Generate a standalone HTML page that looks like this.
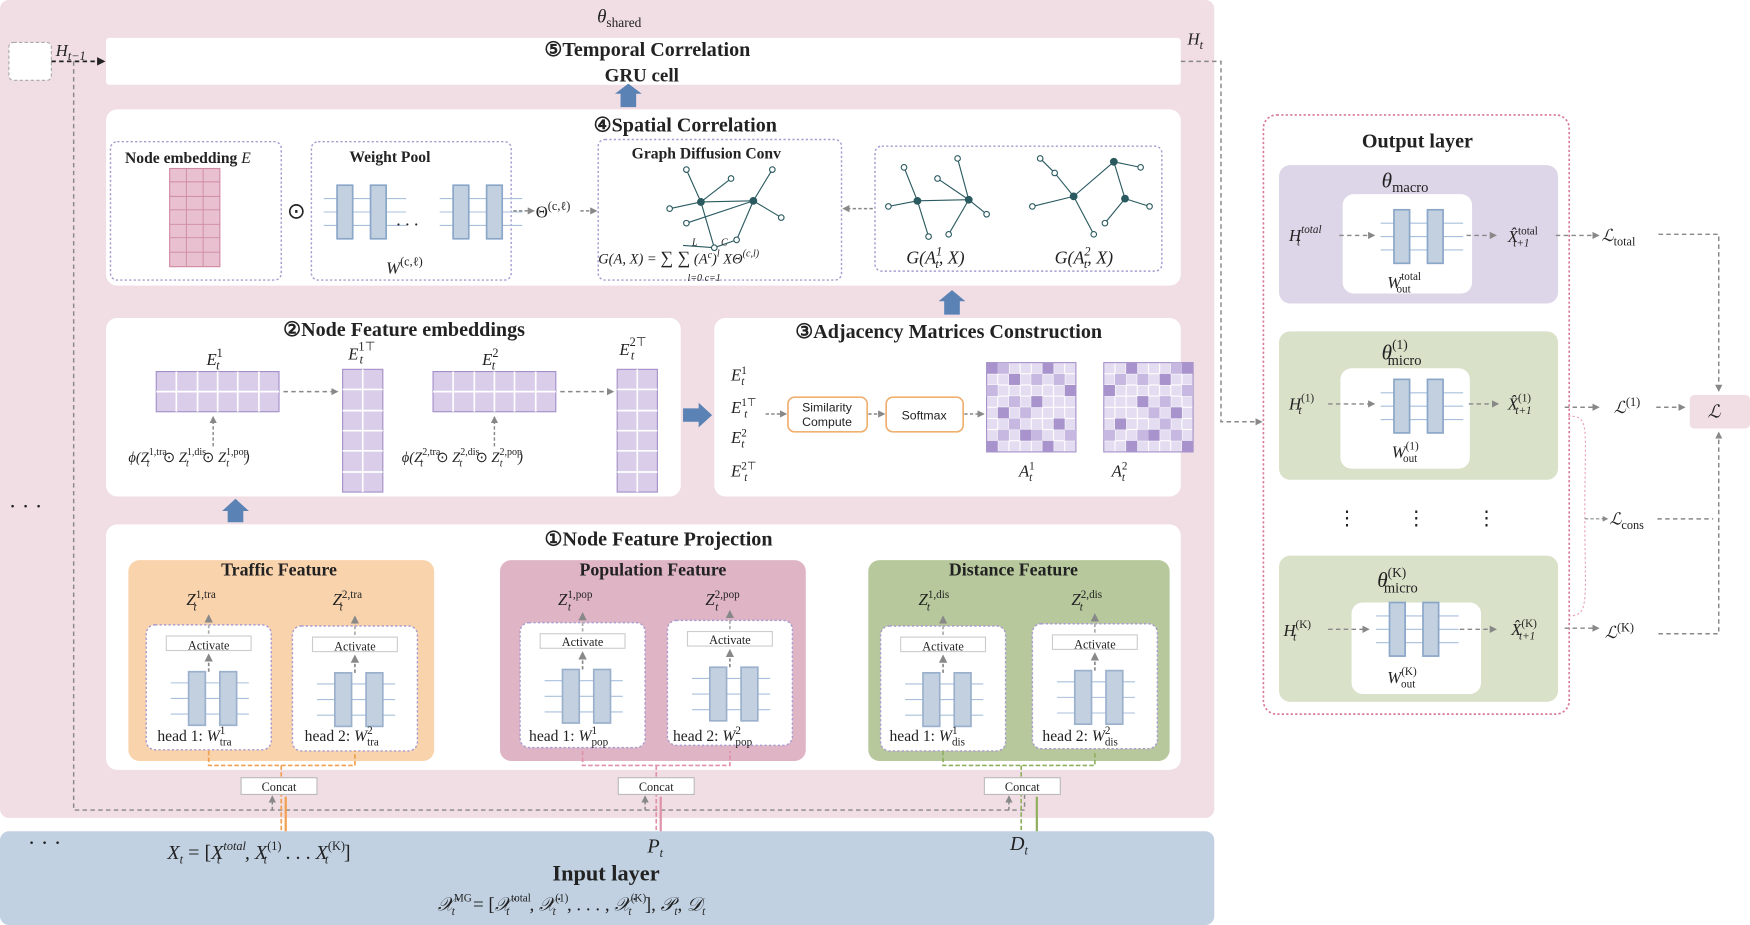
<!DOCTYPE html>
<html><head><meta charset="utf-8"><style>
html,body{margin:0;padding:0;background:#fff;}
svg{display:block;}
text{font-family:"Liberation Serif",serif;fill:#222;}
.b{font-weight:bold;}
.s{font-family:"Liberation Sans",sans-serif;}
</style></head><body>
<svg width="1750" height="925" viewBox="0 0 1568 829" preserveAspectRatio="none" xmlns="http://www.w3.org/2000/svg">
<defs>
<marker id="ag" viewBox="0 0 10 10" refX="8" refY="5" markerWidth="5" markerHeight="5" orient="auto"><path d="M0,0L10,5L0,10z" fill="#888"/></marker>
<marker id="ak" viewBox="0 0 10 10" refX="8" refY="5" markerWidth="5" markerHeight="5" orient="auto"><path d="M0,0L10,5L0,10z" fill="#222"/></marker>
<pattern id="grid" width="10" height="10" patternUnits="userSpaceOnUse"><rect width="10" height="10" fill="#e4dcf0" stroke="#fff" stroke-width="1"/></pattern>
<g id="head">
<rect x="0" y="0" width="112" height="112" rx="8" fill="#fff" stroke="#a99bd0" stroke-dasharray="2 2" stroke-width="1.3"/>
<rect x="18" y="10" width="76" height="13" fill="#fff" stroke="#ccc"/>
<line x1="56" y1="42" x2="56" y2="27" stroke="#888" stroke-width="1.5" stroke-dasharray="3 2" marker-end="url(#ag)"/>
<line x1="56" y1="8" x2="56" y2="-8" stroke="#aaa" stroke-width="1.5" stroke-dasharray="3 2" marker-end="url(#ag)"/>
<g stroke="#a8c0dc" stroke-width="1"><line x1="22" y1="52" x2="92" y2="52"/><line x1="22" y1="66" x2="92" y2="66"/><line x1="22" y1="80" x2="92" y2="80"/></g>
<rect x="38" y="42" width="15" height="48" fill="#c3d0e0" stroke="#9ab0cc" stroke-width="1.5"/>
<rect x="66" y="42" width="15" height="48" fill="#c3d0e0" stroke="#9ab0cc" stroke-width="1.5"/>
</g>
<g id="wb">
<g stroke="#a8c0dc"><line x1="-12" y1="12" x2="62" y2="12"/><line x1="-12" y1="24" x2="62" y2="24"/><line x1="-12" y1="36" x2="62" y2="36"/></g>
<rect x="0" y="0" width="14" height="48" fill="#c3d0e0" stroke="#8aa6c8" stroke-width="1.5"/>
<rect x="30" y="0" width="14" height="48" fill="#c3d0e0" stroke="#8aa6c8" stroke-width="1.5"/>
</g>
<g id="hrow"><rect width="110" height="36" fill="#d9cde9" stroke="#a390c8"/><g stroke="#fff" stroke-width="1.5"><line x1="18" y1="0" x2="18" y2="36"/><line x1="37" y1="0" x2="37" y2="36"/><line x1="55" y1="0" x2="55" y2="36"/><line x1="73" y1="0" x2="73" y2="36"/><line x1="92" y1="0" x2="92" y2="36"/><line x1="0" y1="18" x2="110" y2="18"/></g></g>
<g id="vcol"><rect width="36" height="110" fill="#d9cde9" stroke="#a390c8"/><g stroke="#fff" stroke-width="1.5"><line y1="18" x1="0" y2="18" x2="36"/><line y1="37" x1="0" y2="37" x2="36"/><line y1="55" x1="0" y2="55" x2="36"/><line y1="73" x1="0" y2="73" x2="36"/><line y1="92" x1="0" y2="92" x2="36"/><line y1="0" x1="18" y2="110" x2="18"/></g></g>
<g id="adj"><rect width="80" height="80" fill="url(#grid)" stroke="#a390c8"/>
<g fill="#a893cc"><rect x="0" y="0" width="10" height="10"/><rect x="20" y="10" width="10" height="10"/><rect x="50" y="0" width="10" height="10"/><rect x="70" y="20" width="10" height="10"/><rect x="10" y="40" width="10" height="10"/><rect x="40" y="30" width="10" height="10"/><rect x="60" y="50" width="10" height="10"/><rect x="30" y="60" width="10" height="10"/><rect x="0" y="70" width="10" height="10"/><rect x="50" y="70" width="10" height="10"/></g>
<g fill="#c6b8e0"><rect x="10" y="0" width="10" height="10"/><rect x="40" y="10" width="10" height="10"/><rect x="0" y="20" width="10" height="10"/><rect x="30" y="40" width="10" height="10"/><rect x="60" y="10" width="10" height="10"/><rect x="20" y="50" width="10" height="10"/><rect x="70" y="60" width="10" height="10"/><rect x="10" y="60" width="10" height="10"/><rect x="40" y="60" width="10" height="10"/><rect x="20" y="30" width="10" height="10"/></g></g>
</defs>

<!-- backgrounds -->
<rect x="0" y="0" width="1088" height="733" rx="8" fill="#f0dee4"/>
<rect x="0" y="745" width="1088" height="84" rx="8" fill="#c1d1e2"/>
<text x="535" y="20" font-size="17" font-style="italic">θ<tspan font-size="12" font-style="normal" dy="4">shared</tspan></text>

<rect x="8" y="38" width="38" height="34" rx="4" fill="#fff" stroke="#aaa" stroke-dasharray="3 2"/>
<text x="50" y="50" font-size="15" font-style="italic">H<tspan font-size="11" dy="4">t−1</tspan></text>
<line x1="46" y1="55" x2="93" y2="55" stroke="#222" stroke-width="1.5" stroke-dasharray="4 3" marker-end="url(#ak)"/>
<path d="M66,55 V726 H918 V712" fill="none" stroke="#888" stroke-dasharray="4 3" stroke-width="1.3"/>
<text x="8" y="460" font-size="20">· · ·</text>
<text x="25" y="762" font-size="20">· · ·</text>

<!-- GRU -->
<rect x="95" y="34" width="963" height="42" rx="3" fill="#fff"/>
<text x="580" y="50" font-size="18" class="b" text-anchor="middle">⑤Temporal Correlation</text>
<text x="575" y="73" font-size="17" class="b" text-anchor="middle">GRU cell</text>
<text x="1064" y="40" font-size="15" font-style="italic">H<tspan font-size="11" dy="4">t</tspan></text>
<path d="M1058,55 H1094 V378 H1130" fill="none" stroke="#888" stroke-dasharray="4 3" stroke-width="1.3" marker-end="url(#ag)"/>
<path d="M556,96 L556,84 L551,84 L563,75 L575,84 L570,84 L570,96 Z" fill="#5a82b4"/>

<!-- spatial -->
<rect x="95" y="98" width="963" height="158" rx="10" fill="#fff"/>
<text x="614" y="118" font-size="18" class="b" text-anchor="middle">④Spatial Correlation</text>
<rect x="99" y="127" width="153" height="124" rx="6" fill="none" stroke="#a99bd0" stroke-dasharray="2 2" stroke-width="1.3"/>
<text x="112" y="146" font-size="14" class="b">Node embedding <tspan font-style="italic" font-weight="normal">E</tspan></text>
<rect x="152" y="151" width="45" height="88" fill="#e8c0cf" stroke="#cf8aa2"/>
<g stroke="#cf8aa2" stroke-width="0.8"><line x1="167" y1="151" x2="167" y2="239"/><line x1="182" y1="151" x2="182" y2="239"/><line x1="152" y1="163" x2="197" y2="163"/><line x1="152" y1="176" x2="197" y2="176"/><line x1="152" y1="188" x2="197" y2="188"/><line x1="152" y1="201" x2="197" y2="201"/><line x1="152" y1="213" x2="197" y2="213"/><line x1="152" y1="226" x2="197" y2="226"/></g>
<text x="257" y="196" font-size="20">⊙</text>
<rect x="279" y="127" width="179" height="124" rx="6" fill="none" stroke="#a99bd0" stroke-dasharray="2 2" stroke-width="1.3"/>
<text x="313" y="145" font-size="14" class="b">Weight Pool</text>
<use href="#wb" x="302" y="166"/>
<text x="355" y="202" font-size="16">. . .</text>
<use href="#wb" x="406" y="166"/>
<text x="346" y="245" font-size="15" font-style="italic">W<tspan font-size="11" font-style="normal" dy="-7">(c,ℓ)</tspan></text>
<line x1="460" y1="189" x2="478" y2="189" stroke="#888" stroke-dasharray="3 2" stroke-width="1.3" marker-end="url(#ag)"/>
<text x="480" y="195" font-size="15">Θ<tspan font-size="11" dy="-7">(c,ℓ)</tspan></text>
<line x1="520" y1="189" x2="534" y2="189" stroke="#888" stroke-dasharray="3 2" stroke-width="1.3" marker-end="url(#ag)"/>
<rect x="536" y="125" width="218" height="126" rx="6" fill="none" stroke="#a99bd0" stroke-dasharray="2 2" stroke-width="1.3"/>
<text x="566" y="142" font-size="14" class="b">Graph Diffusion Conv</text>
<g stroke="#2a5a60" stroke-width="1" fill="#2a5a60">
<line x1="615" y1="152" x2="628" y2="181"/><line x1="628" y1="181" x2="675" y2="180"/><line x1="628" y1="181" x2="600" y2="187"/><line x1="628" y1="181" x2="640" y2="222"/><line x1="628" y1="181" x2="655" y2="160"/><line x1="675" y1="180" x2="692" y2="152"/><line x1="675" y1="180" x2="700" y2="195"/><line x1="675" y1="180" x2="660" y2="215"/><line x1="640" y1="222" x2="660" y2="215"/><line x1="615" y1="200" x2="675" y2="180"/><line x1="612" y1="220" x2="640" y2="222"/>
<circle cx="615" cy="152" r="2.5" fill="#fff"/><circle cx="628" cy="181" r="3"/><circle cx="675" cy="180" r="3"/><circle cx="600" cy="187" r="2.5" fill="#fff"/><circle cx="640" cy="222" r="2.5" fill="#fff"/><circle cx="655" cy="160" r="2.5" fill="#fff"/><circle cx="692" cy="152" r="2.5" fill="#fff"/><circle cx="700" cy="195" r="2.5" fill="#fff"/><circle cx="660" cy="215" r="2.5" fill="#fff"/><circle cx="615" cy="200" r="2.5" fill="#fff"/></g>
<text x="536" y="236" font-size="13" font-style="italic">G(A, X) = <tspan font-style="normal" font-size="16">∑ ∑</tspan> (A<tspan font-size="9" dy="-5">c</tspan><tspan dy="5">)</tspan><tspan font-size="9" dy="-6">l</tspan><tspan dy="6"> XΘ</tspan><tspan font-size="9" dy="-6">(c,l)</tspan></text>
<text x="620" y="220" font-size="9" font-style="italic">L</text><text x="646" y="220" font-size="9" font-style="italic">C</text>
<text x="616" y="252" font-size="9" font-style="italic">l=0 c=1</text>
<line x1="782" y1="187" x2="756" y2="187" stroke="#888" stroke-dasharray="3 2" stroke-width="1.3" marker-end="url(#ag)"/>
<rect x="784" y="131" width="257" height="112" rx="6" fill="none" stroke="#a99bd0" stroke-dasharray="2 2" stroke-width="1.3"/>
<g stroke="#2a5a60" stroke-width="1" fill="#2a5a60">
<line x1="810" y1="150" x2="822" y2="180"/><line x1="822" y1="180" x2="868" y2="179"/><line x1="822" y1="180" x2="796" y2="185"/><line x1="822" y1="180" x2="832" y2="212"/><line x1="868" y1="179" x2="858" y2="142"/><line x1="868" y1="179" x2="884" y2="192"/><line x1="868" y1="179" x2="850" y2="210"/><line x1="840" y1="160" x2="868" y2="179"/>
<circle cx="810" cy="150" r="2.5" fill="#fff"/><circle cx="822" cy="180" r="3"/><circle cx="868" cy="179" r="3"/><circle cx="796" cy="185" r="2.5" fill="#fff"/><circle cx="832" cy="212" r="2.5" fill="#fff"/><circle cx="858" cy="142" r="2.5" fill="#fff"/><circle cx="884" cy="192" r="2.5" fill="#fff"/><circle cx="850" cy="210" r="2.5" fill="#fff"/><circle cx="840" cy="160" r="2.5" fill="#fff"/>
<line x1="945" y1="155" x2="962" y2="176"/><line x1="962" y1="176" x2="998" y2="145"/><line x1="962" y1="176" x2="925" y2="185"/><line x1="962" y1="176" x2="980" y2="210"/><line x1="998" y1="145" x2="1008" y2="178"/><line x1="1008" y1="178" x2="1030" y2="185"/><line x1="1008" y1="178" x2="990" y2="200"/><line x1="998" y1="145" x2="1022" y2="150"/><line x1="945" y1="155" x2="932" y2="142"/>
<circle cx="945" cy="155" r="2.5" fill="#fff"/><circle cx="962" cy="176" r="3"/><circle cx="998" cy="145" r="3"/><circle cx="925" cy="185" r="2.5" fill="#fff"/><circle cx="980" cy="210" r="2.5" fill="#fff"/><circle cx="1008" cy="178" r="3"/><circle cx="1030" cy="185" r="2.5" fill="#fff"/><circle cx="990" cy="200" r="2.5" fill="#fff"/><circle cx="1022" cy="150" r="2.5" fill="#fff"/><circle cx="932" cy="142" r="2.5" fill="#fff"/></g>
<text x="812" y="236" font-size="16" font-style="italic">G(A<tspan font-size="11" dy="-7">1</tspan><tspan font-size="11" dx="-6" dy="11">t</tspan><tspan dy="-4">, X)</tspan></text>
<text x="945" y="236" font-size="16" font-style="italic">G(A<tspan font-size="11" dy="-7">2</tspan><tspan font-size="11" dx="-6" dy="11">t</tspan><tspan dy="-4">, X)</tspan></text>
<path d="M846,282 L846,270 L841,270 L853,260 L865,270 L860,270 L860,282 Z" fill="#5a82b4"/>

<!-- node feature embeddings -->
<rect x="95" y="285" width="515" height="160" rx="10" fill="#fff"/>
<text x="362" y="301" font-size="18" class="b" text-anchor="middle">②Node Feature embeddings</text>
<text x="185" y="327" font-size="15" font-style="italic">E<tspan font-size="11" dy="-7" font-style="normal">1</tspan><tspan font-size="11" dx="-6" dy="11">t</tspan></text>
<use href="#hrow" x="140" y="333"/>
<line x1="254" y1="351" x2="302" y2="351" stroke="#888" stroke-dasharray="4 3" stroke-width="1.3" marker-end="url(#ag)"/>
<text x="312" y="322" font-size="15" font-style="italic">E<tspan font-size="11" dy="-8" font-style="normal">1⊤</tspan><tspan font-size="11" dx="-14" dy="12">t</tspan></text>
<use href="#vcol" x="307" y="331"/>
<text x="432" y="327" font-size="15" font-style="italic">E<tspan font-size="11" dy="-7" font-style="normal">2</tspan><tspan font-size="11" dx="-6" dy="11">t</tspan></text>
<use href="#hrow" x="388" y="333"/>
<line x1="502" y1="351" x2="549" y2="351" stroke="#888" stroke-dasharray="4 3" stroke-width="1.3" marker-end="url(#ag)"/>
<text x="555" y="318" font-size="15" font-style="italic">E<tspan font-size="11" dy="-8" font-style="normal">2⊤</tspan><tspan font-size="11" dx="-14" dy="12">t</tspan></text>
<use href="#vcol" x="553" y="331"/>
<line x1="191" y1="400" x2="191" y2="374" stroke="#888" stroke-dasharray="3 2" stroke-width="1.3" marker-end="url(#ag)"/>
<line x1="443" y1="400" x2="443" y2="374" stroke="#888" stroke-dasharray="3 2" stroke-width="1.3" marker-end="url(#ag)"/>
<text x="115" y="414" font-size="13" font-style="italic">ϕ(Z<tspan font-size="9" dy="-6" font-style="normal">1,tra</tspan><tspan font-size="9" dx="-18" dy="10">t</tspan><tspan dy="-4" dx="12" font-style="normal">⊙</tspan> Z<tspan font-size="9" dy="-6" font-style="normal">1,dis</tspan><tspan font-size="9" dx="-18" dy="10">t</tspan><tspan dy="-4" dx="12" font-style="normal">⊙</tspan> Z<tspan font-size="9" dy="-6" font-style="normal">1,pop</tspan><tspan font-size="9" dx="-20" dy="10">t</tspan><tspan dy="-4" dx="14">)</tspan></text>
<text x="360" y="414" font-size="13" font-style="italic">ϕ(Z<tspan font-size="9" dy="-6" font-style="normal">2,tra</tspan><tspan font-size="9" dx="-18" dy="10">t</tspan><tspan dy="-4" dx="12" font-style="normal">⊙</tspan> Z<tspan font-size="9" dy="-6" font-style="normal">2,dis</tspan><tspan font-size="9" dx="-18" dy="10">t</tspan><tspan dy="-4" dx="12" font-style="normal">⊙</tspan> Z<tspan font-size="9" dy="-6" font-style="normal">2,pop</tspan><tspan font-size="9" dx="-20" dy="10">t</tspan><tspan dy="-4" dx="14">)</tspan></text>
<path d="M612,366 L626,366 L626,361 L638,372 L626,383 L626,378 L612,378 Z" fill="#5a82b4"/>
<path d="M204,468 L204,458 L199,458 L211,447 L223,458 L218,458 L218,468 Z" fill="#5a82b4"/>

<!-- adjacency -->
<rect x="640" y="285" width="418" height="160" rx="10" fill="#fff"/>
<text x="850" y="303" font-size="18" class="b" text-anchor="middle">③Adjacency Matrices Construction</text>
<g font-size="15" font-style="italic">
<text x="655" y="341">E<tspan font-size="10" dy="-6" font-style="normal">1</tspan><tspan font-size="10" dx="-5" dy="10">t</tspan></text>
<text x="655" y="370">E<tspan font-size="10" dy="-6" font-style="normal">1⊤</tspan><tspan font-size="10" dx="-11" dy="10">t</tspan></text>
<text x="655" y="397">E<tspan font-size="10" dy="-6" font-style="normal">2</tspan><tspan font-size="10" dx="-5" dy="10">t</tspan></text>
<text x="655" y="427">E<tspan font-size="10" dy="-6" font-style="normal">2⊤</tspan><tspan font-size="10" dx="-11" dy="10">t</tspan></text></g>
<line x1="686" y1="371" x2="704" y2="371" stroke="#888" stroke-dasharray="3 2" stroke-width="1.3" marker-end="url(#ag)"/>
<rect x="706" y="356" width="71" height="31" rx="6" fill="#fff" stroke="#f0b070" stroke-width="1.5"/>
<text x="741" y="369" font-size="11" text-anchor="middle" class="s">Similarity</text>
<text x="741" y="382" font-size="11" text-anchor="middle" class="s">Compute</text>
<line x1="778" y1="371" x2="792" y2="371" stroke="#888" stroke-dasharray="3 2" stroke-width="1.3" marker-end="url(#ag)"/>
<rect x="794" y="356" width="69" height="31" rx="6" fill="#fff" stroke="#f0b070" stroke-width="1.5"/>
<text x="828" y="376" font-size="11" text-anchor="middle" class="s">Softmax</text>
<line x1="864" y1="371" x2="881" y2="371" stroke="#888" stroke-dasharray="3 2" stroke-width="1.3" marker-end="url(#ag)"/>
<use href="#adj" x="884" y="325"/>
<use href="#adj" x="969" y="325" transform="translate(2038,0) scale(-1,1)"/>
<text x="913" y="427" font-size="15" font-style="italic">A<tspan font-size="10" dy="-6" font-style="normal">1</tspan><tspan font-size="10" dx="-5" dy="10">t</tspan></text>
<text x="996" y="427" font-size="15" font-style="italic">A<tspan font-size="10" dy="-6" font-style="normal">2</tspan><tspan font-size="10" dx="-5" dy="10">t</tspan></text>

<!-- projection -->
<rect x="95" y="470" width="963" height="220" rx="10" fill="#fff"/>
<text x="590" y="489" font-size="18" class="b" text-anchor="middle">①Node Feature Projection</text>
<rect x="115" y="502" width="274" height="180" rx="10" fill="#f9d3ac"/>
<rect x="448" y="502" width="274" height="180" rx="10" fill="#dfb5c5"/>
<rect x="778" y="502" width="270" height="180" rx="10" fill="#b7c89c"/>
<text x="250" y="516" font-size="16" class="b" text-anchor="middle">Traffic Feature</text>
<text x="585" y="516" font-size="16" class="b" text-anchor="middle">Population Feature</text>
<text x="908" y="516" font-size="16" class="b" text-anchor="middle">Distance Feature</text>
<g font-size="15" font-style="italic">
<text x="167" y="542">Z<tspan font-size="10" dy="-6" font-style="normal">1,tra</tspan><tspan font-size="10" dx="-20" dy="11">t</tspan></text>
<text x="298" y="542">Z<tspan font-size="10" dy="-6" font-style="normal">2,tra</tspan><tspan font-size="10" dx="-20" dy="11">t</tspan></text>
<text x="500" y="542">Z<tspan font-size="10" dy="-6" font-style="normal">1,pop</tspan><tspan font-size="10" dx="-22" dy="11">t</tspan></text>
<text x="632" y="542">Z<tspan font-size="10" dy="-6" font-style="normal">2,pop</tspan><tspan font-size="10" dx="-22" dy="11">t</tspan></text>
<text x="823" y="542">Z<tspan font-size="10" dy="-6" font-style="normal">1,dis</tspan><tspan font-size="10" dx="-20" dy="11">t</tspan></text>
<text x="960" y="542">Z<tspan font-size="10" dy="-6" font-style="normal">2,dis</tspan><tspan font-size="10" dx="-20" dy="11">t</tspan></text></g>
<use href="#head" x="131" y="560"/><use href="#head" x="262" y="561"/>
<use href="#head" x="466" y="558"/><use href="#head" x="598" y="556"/>
<use href="#head" x="789" y="561"/><use href="#head" x="925" y="559"/>
<g font-size="11" text-anchor="middle">
<text x="187" y="582">Activate</text><text x="318" y="583">Activate</text>
<text x="522" y="579">Activate</text><text x="654" y="577">Activate</text>
<text x="845" y="583">Activate</text><text x="981" y="581">Activate</text></g>
<g font-size="14">
<text x="141" y="664">head 1:  <tspan font-style="italic">W</tspan><tspan font-size="10" dy="-6">1</tspan><tspan font-size="10" dx="-5" dy="10">tra</tspan></text>
<text x="273" y="664">head 2:  <tspan font-style="italic">W</tspan><tspan font-size="10" dy="-6">2</tspan><tspan font-size="10" dx="-5" dy="10">tra</tspan></text>
<text x="474" y="664">head 1:  <tspan font-style="italic">W</tspan><tspan font-size="10" dy="-6">1</tspan><tspan font-size="10" dx="-5" dy="10">pop</tspan></text>
<text x="603" y="664">head 2:  <tspan font-style="italic">W</tspan><tspan font-size="10" dy="-6">2</tspan><tspan font-size="10" dx="-5" dy="10">pop</tspan></text>
<text x="797" y="664">head 1:  <tspan font-style="italic">W</tspan><tspan font-size="10" dy="-6">1</tspan><tspan font-size="10" dx="-5" dy="10">dis</tspan></text>
<text x="934" y="664">head 2:  <tspan font-style="italic">W</tspan><tspan font-size="10" dy="-6">2</tspan><tspan font-size="10" dx="-5" dy="10">dis</tspan></text></g>
<!-- concat routing -->
<path d="M187,673 V686 H318 V673 M252,686 V745" fill="none" stroke="#f0a050" stroke-dasharray="4 2" stroke-width="1.5"/>
<path d="M522,673 V686 H654 V673 M588,686 V745" fill="none" stroke="#e090a8" stroke-dasharray="4 2" stroke-width="1.5"/>
<path d="M845,673 V686 H981 V673 M915,686 V745" fill="none" stroke="#90b060" stroke-dasharray="4 2" stroke-width="1.5"/>
<rect x="216" y="697" width="68" height="15" fill="#fff" stroke="#bbb"/>
<rect x="554" y="697" width="68" height="15" fill="#fff" stroke="#bbb"/>
<rect x="882" y="697" width="68" height="15" fill="#fff" stroke="#bbb"/>
<g font-size="11" text-anchor="middle"><text x="250" y="709">Concat</text><text x="588" y="709">Concat</text><text x="916" y="709">Concat</text></g>
<line x1="256" y1="745" x2="256" y2="714" stroke="#f0a050" stroke-width="2"/>
<line x1="592" y1="745" x2="592" y2="714" stroke="#e090a8" stroke-width="2"/>
<line x1="929" y1="745" x2="929" y2="714" stroke="#90b060" stroke-width="2"/>
<g stroke="#888" stroke-width="1.3" stroke-dasharray="3 2"><line x1="244" y1="726" x2="244" y2="714" marker-end="url(#ag)"/><line x1="578" y1="726" x2="578" y2="714" marker-end="url(#ag)"/><line x1="904" y1="726" x2="904" y2="714" marker-end="url(#ag)"/></g>

<!-- input layer -->
<text x="150" y="770" font-size="18" font-style="italic">X<tspan font-size="11" dy="4">t</tspan><tspan dy="-4" font-style="normal"> = [</tspan>X<tspan font-size="11" dy="-8">total</tspan><tspan font-size="11" dx="-26" dy="12">t</tspan><tspan dy="-4" dx="22">, X</tspan><tspan font-size="11" dy="-8" font-style="normal">(1)</tspan><tspan font-size="11" dx="-16" dy="12">t</tspan><tspan dy="-4" dx="12" font-style="normal"> . . . </tspan>X<tspan font-size="11" dy="-8" font-style="normal">(K)</tspan><tspan font-size="11" dx="-18" dy="12">t</tspan><tspan dy="-4" dx="14" font-style="normal">]</tspan></text>
<text x="580" y="764" font-size="18" font-style="italic">P<tspan font-size="11" dy="4">t</tspan></text>
<text x="905" y="762" font-size="18" font-style="italic">D<tspan font-size="11" dy="4">t</tspan></text>
<text x="543" y="789" font-size="20" class="b" text-anchor="middle">Input layer</text>
<text x="392" y="816" font-size="17" font-style="italic">𝒳<tspan font-size="10" dy="-8" font-style="normal">MG</tspan><tspan font-size="10" dx="-18" dy="12">t</tspan><tspan dy="-4" dx="12" font-style="normal"> = [</tspan>𝒳<tspan font-size="10" dy="-8" font-style="normal">total</tspan><tspan font-size="10" dx="-22" dy="12">t</tspan><tspan dy="-4" dx="18">, 𝒳</tspan><tspan font-size="10" dy="-8" font-style="normal">(1)</tspan><tspan font-size="10" dx="-14" dy="12">t</tspan><tspan dy="-4" dx="10" font-style="normal">, . . . , </tspan>𝒳<tspan font-size="10" dy="-8" font-style="normal">(K)</tspan><tspan font-size="10" dx="-16" dy="12">t</tspan><tspan dy="-4" dx="12" font-style="normal">], </tspan>𝒫<tspan font-size="10" dy="4">t</tspan><tspan dy="-4" font-style="normal">, </tspan>𝒟<tspan font-size="10" dy="4">t</tspan></text>

<!-- output layer -->
<rect x="1132" y="103" width="274" height="537" rx="12" fill="#fff" stroke="#d87a98" stroke-dasharray="2 2" stroke-width="1.5"/>
<text x="1270" y="132" font-size="18" class="b" text-anchor="middle">Output layer</text>
<rect x="1146" y="148" width="250" height="124" rx="10" fill="#dcd6e8"/>
<rect x="1146" y="297" width="250" height="133" rx="10" fill="#d9e1c9"/>
<rect x="1146" y="498" width="250" height="131" rx="10" fill="#d9e1c9"/>
<text x="1238" y="168" font-size="19" font-style="italic">θ<tspan font-size="13" font-style="normal" dy="4">macro</tspan></text>
<text x="1238" y="322" font-size="19" font-style="italic">θ<tspan font-size="12" font-style="normal" dy="-9">(1)</tspan><tspan font-size="13" font-style="normal" dx="-18" dy="14">micro</tspan></text>
<text x="1234" y="526" font-size="19" font-style="italic">θ<tspan font-size="12" font-style="normal" dy="-9">(K)</tspan><tspan font-size="13" font-style="normal" dx="-20" dy="14">micro</tspan></text>
<rect x="1203" y="174" width="116" height="89" rx="10" fill="#fff"/>
<rect x="1201" y="330" width="116" height="90" rx="10" fill="#fff"/>
<rect x="1211" y="540" width="116" height="82" rx="10" fill="#fff"/>
<use href="#wb" x="1249" y="188"/>
<use href="#wb" x="1249" y="340"/>
<use href="#wb" x="1245" y="540"/>
<text x="1243" y="258" font-size="15" font-style="italic">W<tspan font-size="10" font-style="normal" dy="-7">total</tspan><tspan font-size="10" font-style="normal" dx="-22" dy="11">out</tspan></text>
<text x="1247" y="410" font-size="15" font-style="italic">W<tspan font-size="10" font-style="normal" dy="-7">(1)</tspan><tspan font-size="10" font-style="normal" dx="-14" dy="11">out</tspan></text>
<text x="1243" y="612" font-size="15" font-style="italic">W<tspan font-size="10" font-style="normal" dy="-7">(K)</tspan><tspan font-size="10" font-style="normal" dx="-14" dy="11">out</tspan></text>
<text x="1155" y="216" font-size="15" font-style="italic">H<tspan font-size="10" dy="-7">total</tspan><tspan font-size="10" dx="-22" dy="11">t</tspan></text>
<text x="1155" y="367" font-size="15" font-style="italic">H<tspan font-size="10" dy="-7" font-style="normal">(1)</tspan><tspan font-size="10" dx="-14" dy="11">t</tspan></text>
<text x="1150" y="570" font-size="15" font-style="italic">H<tspan font-size="10" dy="-7" font-style="normal">(K)</tspan><tspan font-size="10" dx="-16" dy="11">t</tspan></text>
<g stroke="#888" stroke-width="1.3" stroke-dasharray="4 3" fill="none">
<line x1="1200" y1="211" x2="1231" y2="211" marker-end="url(#ag)"/><line x1="1314" y1="211" x2="1340" y2="211" marker-end="url(#ag)"/>
<line x1="1190" y1="362" x2="1231" y2="362" marker-end="url(#ag)"/><line x1="1316" y1="362" x2="1342" y2="362" marker-end="url(#ag)"/>
<line x1="1190" y1="564" x2="1226" y2="564" marker-end="url(#ag)"/><line x1="1308" y1="564" x2="1340" y2="564" marker-end="url(#ag)"/>
<line x1="1394" y1="211" x2="1432" y2="211" marker-end="url(#ag)"/>
<line x1="1402" y1="365" x2="1432" y2="365" marker-end="url(#ag)"/>
<line x1="1402" y1="563" x2="1432" y2="563" marker-end="url(#ag)"/>
<path d="M1486,210 H1540 V350" marker-end="url(#ag)"/>
<line x1="1484" y1="365" x2="1509" y2="365" marker-end="url(#ag)"/>
<path d="M1486,568 H1540 V388" marker-end="url(#ag)"/>
<line x1="1485" y1="465" x2="1535" y2="465"/>
</g>
<path d="M1405,373 C1425,373 1420,380 1420,460 C1420,540 1425,552 1405,552" fill="none" stroke="#e7a3b8" stroke-dasharray="2 2"/>
<line x1="1420" y1="465" x2="1440" y2="465" stroke="#888" stroke-dasharray="3 2" marker-end="url(#ag)"/>
<text x="1351" y="217" font-size="15" font-style="italic">X̂<tspan font-size="10" dy="-7" font-style="normal">total</tspan><tspan font-size="10" dx="-22" dy="11">t+1</tspan></text>
<text x="1351" y="367" font-size="15" font-style="italic">X̂<tspan font-size="10" dy="-7" font-style="normal">(1)</tspan><tspan font-size="10" dx="-14" dy="11">t+1</tspan></text>
<text x="1354" y="569" font-size="15" font-style="italic">X̂<tspan font-size="10" dy="-7" font-style="normal">(K)</tspan><tspan font-size="10" dx="-16" dy="11">t+1</tspan></text>
<text x="1435" y="216" font-size="15" font-style="italic">ℒ<tspan font-size="11" font-style="normal" dy="4">total</tspan></text>
<text x="1446" y="370" font-size="15" font-style="italic">ℒ<tspan font-size="11" font-style="normal" dy="-6">(1)</tspan></text>
<text x="1442" y="470" font-size="15" font-style="italic">ℒ<tspan font-size="11" font-style="normal" dy="4">cons</tspan></text>
<text x="1438" y="572" font-size="15" font-style="italic">ℒ<tspan font-size="11" font-style="normal" dy="-6">(K)</tspan></text>
<rect x="1514" y="354" width="54" height="30" rx="4" fill="#f0dee4"/>
<text x="1530" y="374" font-size="16" font-style="italic">ℒ</text>
<g font-size="18"><text x="1198" y="470">⋮</text><text x="1260" y="470">⋮</text><text x="1323" y="470">⋮</text></g>
</svg>
</body></html>
